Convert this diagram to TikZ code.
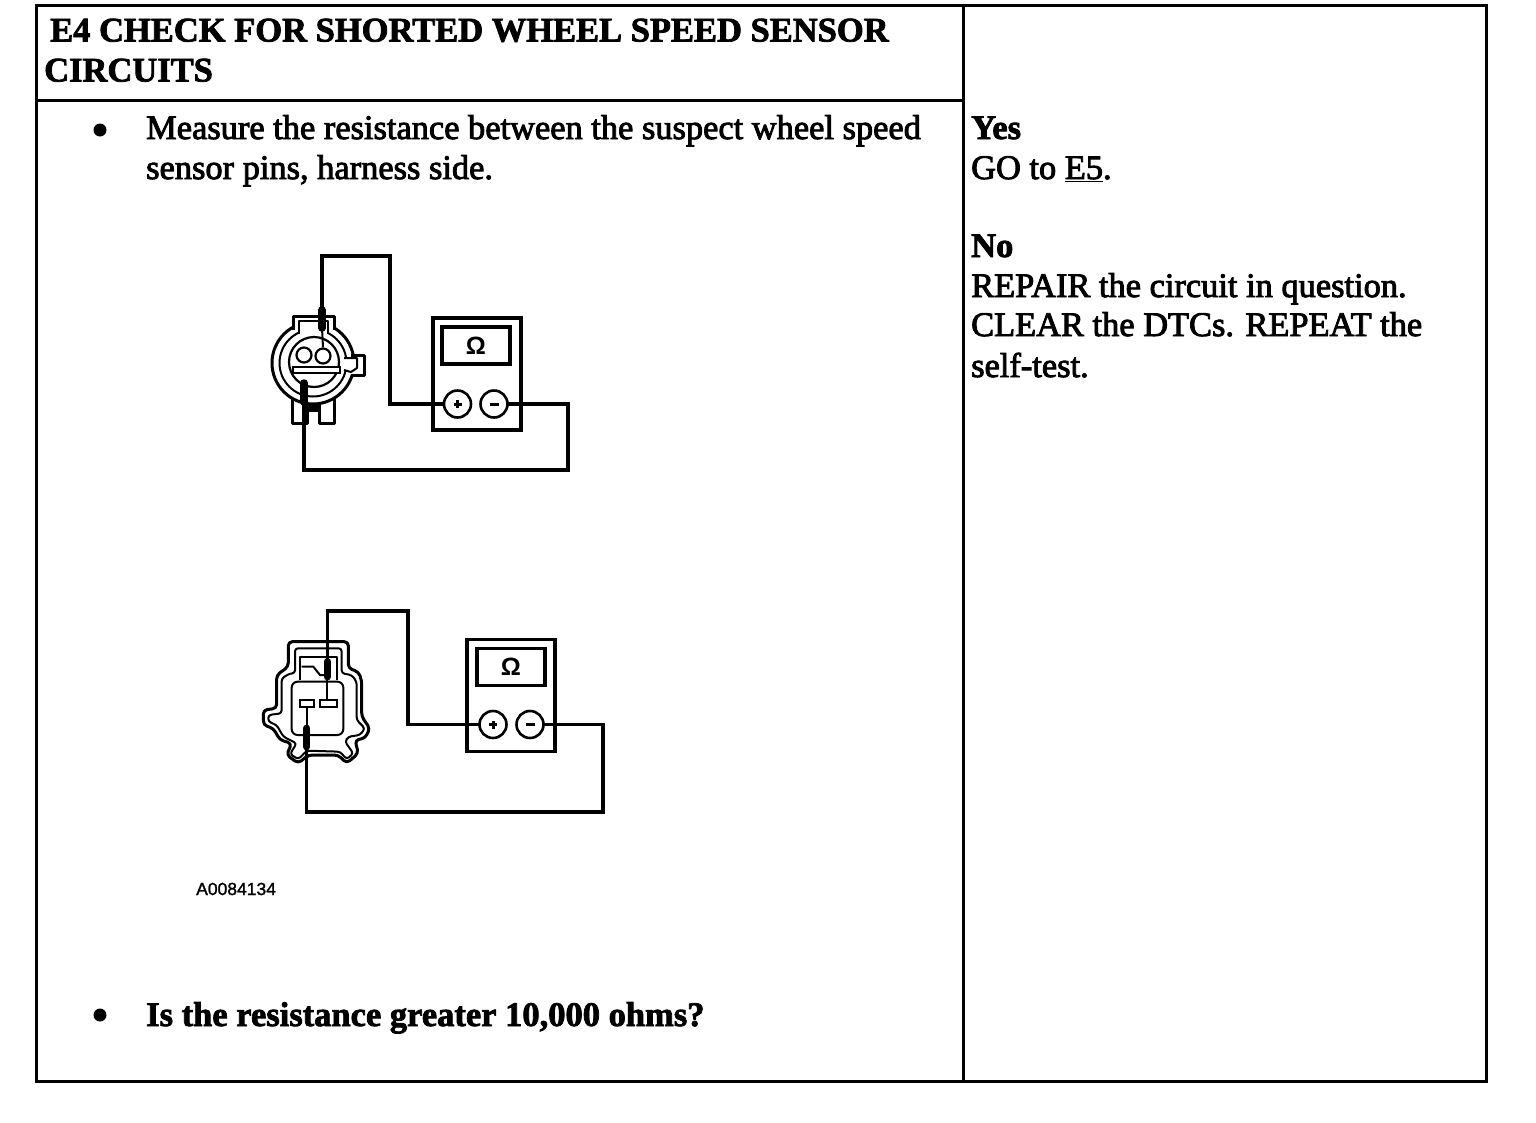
\documentclass[tikz,border=0pt]{standalone}
\usepackage{fontspec}
\setmainfont{Liberation Serif}
\newfontfamily\bodyf[FakeBold=2.6]{Liberation Serif}
\newfontfamily\headf[FakeBold=2.2]{Liberation Serif Bold}
\newfontfamily\codef[FakeBold=1.5]{Liberation Sans}
\newfontfamily\omegaf{Liberation Sans Bold}
\begin{document}
\begin{tikzpicture}[x=1pt,y=-1pt,
  cell/.style={draw=black,line width=3pt,rectangle,inner sep=0pt,outer sep=0pt,anchor=north west},
  body/.style={anchor=base west,inner sep=0pt,font=\bodyf\fontsize{34.4}{40}\selectfont},
  head/.style={anchor=base west,inner sep=0pt,font=\headf\fontsize{34.5}{40}\selectfont},
  bulletdot/.style={circle,fill=black,inner sep=0pt,minimum size=13pt},
  meterbox/.style={draw=black,line width=3.4pt,rectangle,inner sep=0pt,outer sep=0pt,fill=white},
  meterdisp/.style={draw=black,line width=3.4pt,rectangle,inner sep=0pt,outer sep=0pt,font=\omegaf\fontsize{25}{25}\selectfont},
  jack/.style={draw=black,line width=2.6pt,circle,inner sep=0pt,outer sep=0pt,minimum size=27pt,fill=white},
  wire/.style={draw=black,line width=3.4pt,line join=miter},
  outline/.style={draw=black,line width=3pt,line join=round},
  thinline/.style={draw=black,line width=2pt,line join=round},
  probe/.style={draw=black,line width=7.5pt,line cap=round}]
\useasboundingbox (0,0) rectangle (1536,1122);
\fill[white] (0,0) rectangle (1536,1122);

% table
\node[cell,minimum width=927pt,minimum height=95pt] (headcell) at (36,5) {};
\node[cell,minimum width=927pt,minimum height=981pt] (maincell) at (36,100) {};
\node[cell,minimum width=523pt,minimum height=1076pt] (sidecell) at (963,5) {};

% heading
\node[head] (h1) at (50,41.5) {E4 CHECK FOR SHORTED WHEEL SPEED SENSOR};
\node[head] (h2) at (44,81.5) {CIRCUITS};

% main text
\node[bulletdot] (b1) at (100,130) {};
\node[body] (m1) at (146,139) {Measure the resistance between the suspect wheel speed};
\node[body] (m2) at (146,179) {sensor pins, harness side.};
\node[bulletdot] (b2) at (100,1015) {};
\node[head] (q) at (146,1026) {Is the resistance greater 10,000 ohms?};
\node[anchor=base west,inner sep=0pt,font=\codef\fontsize{17.5}{18}\selectfont] (code) at (196,895) {A0084134};

% side text
\node[head] (yes) at (971,139) {Yes};
\node[body] (go) at (971,179) {GO to \underline{E5}.};
\node[head] (no) at (971,257) {No};
\node[body] (s1) at (971,297) {REPAIR the circuit in question.};
\node[body] (s2) at (971,336) {CLEAR the DTCs. REPEAT the};
\node[body] (s3) at (971,377) {self-test.};

% ===== upper meter =====
\node[meterbox,minimum width=88pt,minimum height=112pt] (ma) at (477,374) {};
\node[meterdisp,minimum width=68pt,minimum height=37pt] (da) at (476,345.5) {Ω};
\node[jack] (pa) at (457.5,404) {\rule{8pt}{3pt}\llap{\rule[-2.5pt]{3pt}{8pt}\kern2.5pt}};
\node[jack] (na) at (494,404) {\rule{9pt}{3pt}};

% upper sensor: tabs, body circle, neck and side lug
\draw[outline,fill=white] (292,395) -- (292,423) -- (307,423) -- (307,395);
\draw[outline,fill=white] (319,395) -- (319,423) -- (334,423) -- (334,395);
\draw[draw=black,line width=1.5pt,fill=black] (309,400) rectangle (318,411);
\node[draw=black,line width=3pt,circle,minimum size=82pt,inner sep=0pt,fill=white] (bodyA) at (313,363) {};
\fill[white] (294,318) rectangle (333,334);
\draw[outline] (293,330) -- (293,316) -- (334,316) -- (334,330);
\fill[white] (348,357) rectangle (363,374);
\draw[outline] (351,355) -- (364,355) -- (364,375) -- (351,375);
\node[draw=black,line width=2pt,circle,minimum size=67pt,inner sep=0pt] (ringA) at (313,363) {};
\fill[white] (300,322) rectangle (327,336);
\draw[thinline] (299,334) -- (299,321) -- (328,321) -- (328,334);
\fill[white] (342,358) rectangle (352,370);
\draw[thinline] (344,358) -- (357,358) -- (357,368) -- (351,372) -- (344,370);
\node[draw=black,line width=2.2pt,circle,minimum size=50pt,inner sep=0pt] (faceA) at (314,362) {};
\node[draw=black,line width=2.2pt,circle,minimum size=15pt,inner sep=0pt,fill=white] (pinA1) at (304,355) {};
\node[draw=black,line width=2.2pt,circle,minimum size=15pt,inner sep=0pt,fill=white] (pinA2) at (323,356) {};
\node[draw=black,line width=2pt,rectangle,minimum width=47pt,minimum height=6pt,inner sep=0pt,fill=white] (barA) at (316.5,370) {};
\coordinate (ta) at (322,310);
\coordinate (tb) at (322,328);
\coordinate (ba) at (304,383);
\coordinate (bb) at (304,402);
\draw[thinline] (tb) -- (pinA2.north);
\draw[probe] (ta) -- (tb);
\draw[probe] (ba) -- (bb);
\draw[wire] (ta) |- (390,256) |- (pa.west);
\draw[wire] (na.east) -| (568,470) -| (bb);

% ===== lower meter =====
\node[meterbox,minimum width=88pt,minimum height=112pt] (mb) at (511,695.5) {};
\node[meterdisp,minimum width=68pt,minimum height=37pt] (db) at (511,667) {Ω};
\node[jack] (pb) at (493,724.5) {\rule{8pt}{3pt}\llap{\rule[-2.5pt]{3pt}{8pt}\kern2.5pt}};
\node[jack] (nb) at (530,724.5) {\rule{9pt}{3pt}};

% lower connector (drawn in 1/3 pixel units from its own corner)
\begin{scope}[shift={(240,600)},x=0.33333pt,y=-0.33333pt]
\draw[outline,fill=white,rounded corners=4pt]
  (145,125) -- (325,125) -- (325,205) -- (355,215) -- (365,240) -- (365,350) -- (390,385) -- (375,415) -- (345,420) -- (355,460) -- (320,490) -- (295,465) -- (205,465) -- (175,490) -- (140,465) -- (155,430) -- (120,420) -- (100,385) -- (70,375) -- (70,330) -- (110,325) -- (110,225) -- (145,200) -- cycle;
\draw[thinline,rounded corners=3pt]
  (125,235) -- (150,220) -- (165,220) -- (165,145) -- (305,145) -- (305,220) -- (335,225) -- (350,245) -- (350,360) -- (375,385) -- (360,405) -- (325,410) -- (315,425) -- (340,460) -- (320,478) -- (300,455) -- (200,452) -- (175,478) -- (150,462) -- (170,430) -- (130,410) -- (110,375) -- (85,365) -- (85,345) -- (125,340) -- cycle;
\draw[thinline,rounded corners=6pt,fill=white] (155,245) rectangle (310,405);
\draw[thinline] (180,240) -- (180,170) -- (290,170) -- (290,240);
\draw[thinline] (185,200) -- (220,200) -- (240,225) -- (262,225);
\node[draw=black,line width=2pt,rectangle,minimum width=14pt,minimum height=7pt,inner sep=0pt,fill=white] (pinB1) at (200,311) {};
\node[draw=black,line width=2pt,rectangle,minimum width=17pt,minimum height=7pt,inner sep=0pt,fill=white] (pinB2) at (264,311) {};
\coordinate (tc) at (262,185);
\coordinate (td) at (262,230);
\coordinate (bc) at (200,385);
\coordinate (bd) at (200,440);
\draw[thinline] (td) -- (262,300);
\draw[thinline] (pinB1.south) -- (bc);
\draw[probe] (tc) -- (td);
\draw[probe] (bc) -- (bd);
\end{scope}
\draw[wire] (tc) |- (408,611) |- (pb.west);
\draw[wire] (nb.east) -| (603,812) -| (bd);
\end{tikzpicture}
\end{document}
